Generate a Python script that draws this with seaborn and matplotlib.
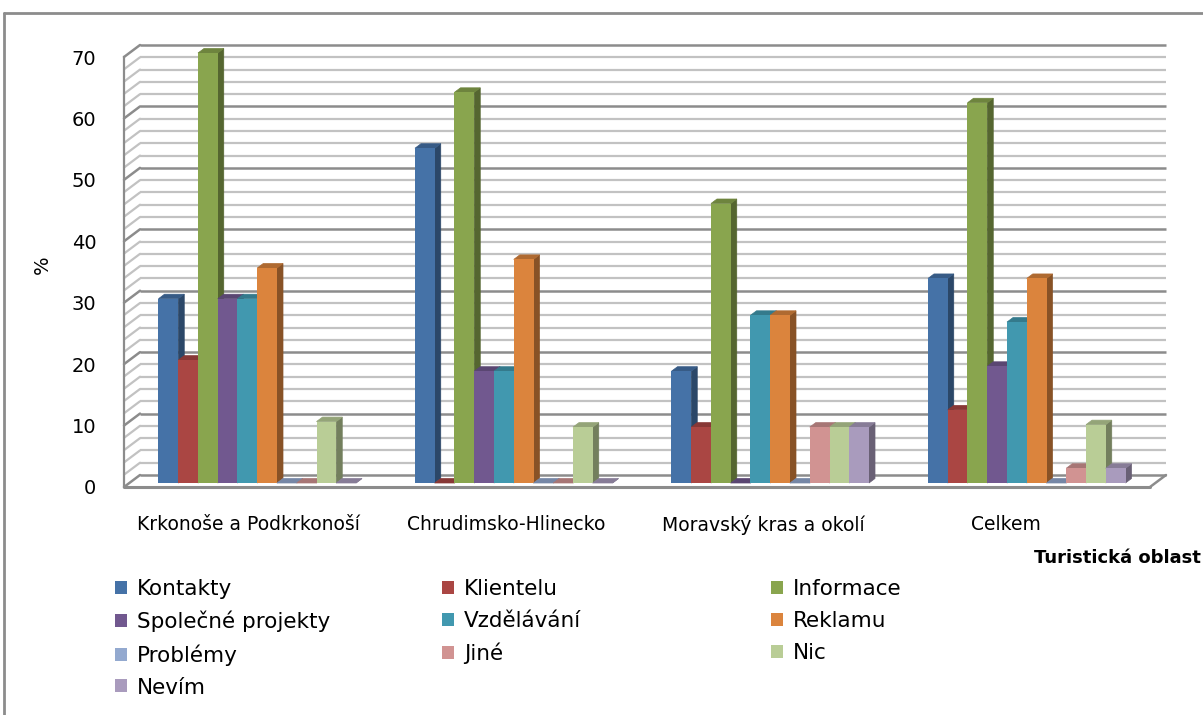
import numpy as np
import pandas as pd
import matplotlib
matplotlib.use("Agg")
import matplotlib.pyplot as plt
from matplotlib.transforms import ScaledTranslation
from matplotlib.patches import Polygon, Patch
from matplotlib.lines import Line2D
import matplotlib.colors as mcolors
import seaborn as sns

# Survey results: share of respondents (%) by tourist region
regions = ["Krkonoše a Podkrkonoší", "Chrudimsko-Hlinecko", "Moravský kras a okolí", "Celkem"]
answers = ["Kontakty", "Klientelu", "Informace", "Společné projekty", "Vzdělávání",
           "Reklamu", "Problémy", "Jiné", "Nic", "Nevím"]
kontakty = [30.0, 54.5, 18.2, 33.3]
klientelu = [20.0, 0.0, 9.1, 11.9]
informace = [70.0, 63.6, 45.5, 61.9]
spolecne = [30.0, 18.2, 0.0, 19.0]
vzdelavani = [30.0, 18.2, 27.3, 26.2]
reklamu = [35.0, 36.4, 27.3, 33.3]
problemy = [0.0, 0.0, 0.0, 0.0]
jine = [0.0, 0.0, 9.1, 2.4]
nic = [10.0, 9.1, 9.1, 9.5]
nevim = [0.0, 0.0, 9.1, 2.4]
y_ticks = [0, 10, 20, 30, 40, 50, 60, 70]

series = [kontakty, klientelu, informace, spolecne, vzdelavani,
          reklamu, problemy, jine, nic, nevim]
colors = ["#4572A7", "#AA4643", "#89A54E", "#71588F", "#4198AF",
          "#DB843D", "#93A9CF", "#D19392", "#B9CD96", "#A99BBD"]

df = pd.DataFrame(
    [(r, a, vals[i]) for a, vals in zip(answers, series) for i, r in enumerate(regions)],
    columns=["oblast", "odpoved", "pct"],
)

sns.set_style("white")
plt.rcParams["font.family"] = ["DejaVu Sans"]
plt.rcParams["text.color"] = "black"
plt.rcParams["axes.labelcolor"] = "black"
plt.rcParams["xtick.color"] = "black"
plt.rcParams["ytick.color"] = "black"

W, H = 1203, 715
fig = plt.figure(figsize=(W / 100, H / 100), dpi=100)
ax_l, ax_r, ax_b, ax_t = 124, 1150, 487, 57
ax = fig.add_axes([ax_l / W, (H - ax_b) / H, (ax_r - ax_l) / W, (ax_b - ax_t) / H])

sns.barplot(data=df, x="oblast", y="pct", hue="odpoved", hue_order=answers,
            palette=colors, width=0.77, saturation=1, ax=ax, legend=False,
            edgecolor="none", linewidth=0)

ax.set_xlim(-0.5, 3.5)
ax.set_ylim(0, 70)
xu = 4.0 / (ax_r - ax_l)          # data units per pixel (x)
yu = 70.0 / (ax_b - ax_t)         # data units per pixel (y)

grid_major = "#8c8c8c"
grid_minor = "#c2c2c2"

# back wall with depth offset
wall_dx, wall_dy = 16, 12
wall_tr = ax.transData + ScaledTranslation(wall_dx / 100, wall_dy / 100, fig.dpi_scale_trans)
for v in range(0, 71, 2):
    major = v % 10 == 0
    c = grid_major if major else grid_minor
    lw = 1.8 if major else 1.6
    ax.plot([-0.5, 3.5], [v, v], transform=wall_tr, color=c, lw=lw,
            clip_on=False, zorder=0.5, solid_capstyle="butt")
    # side wall stroke joining the axis to the back wall
    ax.plot([-0.5, -0.5 + wall_dx * xu], [v, v + wall_dy * yu], color=c, lw=lw,
            clip_on=False, zorder=0.6)

# floor edges
ax.plot([-0.5, 3.5], [0, 0], color=grid_major, lw=2.2, clip_on=False, zorder=0.7)
ax.plot([3.5, 3.5 + wall_dx * xu], [0, wall_dy * yu], color=grid_major, lw=1.8,
        clip_on=False, zorder=0.7)

# bars: front face set slightly back, plus side and top faces
fdx, fdy = 5, 4
bdx, bdy = 11, 8.5
front_tr = ax.transData + ScaledTranslation(fdx / 100, fdy / 100, fig.dpi_scale_trans)
bars = []
for k, cont in enumerate(ax.containers):
    for p in cont.patches:
        bars.append((p.get_x(), p, colors[k]))
bars.sort(key=lambda t: t[0])
for rank, (x0, p, col) in enumerate(bars):
    z = 2 + rank * 0.01
    p.set_transform(front_tr)
    p.set_clip_on(False)
    p.set_zorder(z + 0.005)
    w = p.get_width()
    h = p.get_height()
    x1 = x0 + w
    rgb = np.array(mcolors.to_rgb(col))
    side_c = rgb * 0.62
    top_c = rgb * 0.8
    side = Polygon([(x1 + fdx * xu, fdy * yu), (x1 + bdx * xu, bdy * yu),
                    (x1 + bdx * xu, h + bdy * yu), (x1 + fdx * xu, h + fdy * yu)],
                   closed=True, facecolor=side_c, edgecolor=side_c, lw=0.5,
                   zorder=z, clip_on=False)
    top = Polygon([(x0 + fdx * xu, h + fdy * yu), (x1 + fdx * xu, h + fdy * yu),
                   (x1 + bdx * xu, h + bdy * yu), (x0 + bdx * xu, h + bdy * yu)],
                  closed=True, facecolor=top_c, edgecolor=top_c, lw=0.5,
                  zorder=z, clip_on=False)
    ax.add_patch(side)
    ax.add_patch(top)

# axes styling
for s in ["top", "right", "bottom"]:
    ax.spines[s].set_visible(False)
ax.spines["left"].set_color(grid_major)
ax.spines["left"].set_linewidth(1.6)
ax.set_yticks(y_ticks)
ax.set_yticklabels([str(t) for t in y_ticks])
ax.tick_params(axis="y", length=8, width=1.6, color=grid_major, pad=12,
               labelsize=14, labelcolor="black", direction="out")
label_shift_px = [-4, -3, -2, -16]
ax.set_xticks([i + s * xu for i, s in enumerate(label_shift_px)])
ax.set_xticklabels(regions)
ax.tick_params(axis="x", length=0, pad=20, labelsize=13.5, labelcolor="black")
ax.set_xlabel("")
ax.set_ylabel("")
ax.grid(False)
ax.patch.set_alpha(0)

fig.text(42 / W, 1 - 265 / H, "%", rotation=90, ha="center", va="center",
         fontsize=14, color="black")
fig.text(1201 / W, 1 - 558 / H, "Turistická oblast", ha="right", va="center",
         fontsize=13, fontweight="bold", color="black")

# legend laid out in three columns, filled row by row
col_x = [115, 442, 771]
handles = [Patch(facecolor=c, edgecolor="none") for c in colors]
for ci, cx in enumerate(col_x):
    idx = list(range(ci, len(answers), 3))
    fig.legend([handles[i] for i in idx], [answers[i] for i in idx],
               loc="upper left", bbox_to_anchor=(cx / W, 1 - 579 / H),
               frameon=False, fontsize=15.5, handlelength=0.56, handleheight=0.56,
               handletextpad=0.47, labelspacing=0.55, borderaxespad=0, borderpad=0,
               labelcolor="black")

# outer chart frame
fig.add_artist(Line2D([4 / W, 1], [1 - 13 / H, 1 - 13 / H], transform=fig.transFigure,
                      color="#8c8c8c", lw=2))
fig.add_artist(Line2D([4 / W, 4 / W], [0, 1 - 13 / H], transform=fig.transFigure,
                      color="#8c8c8c", lw=2))

fig.savefig("out.png", dpi=100)
